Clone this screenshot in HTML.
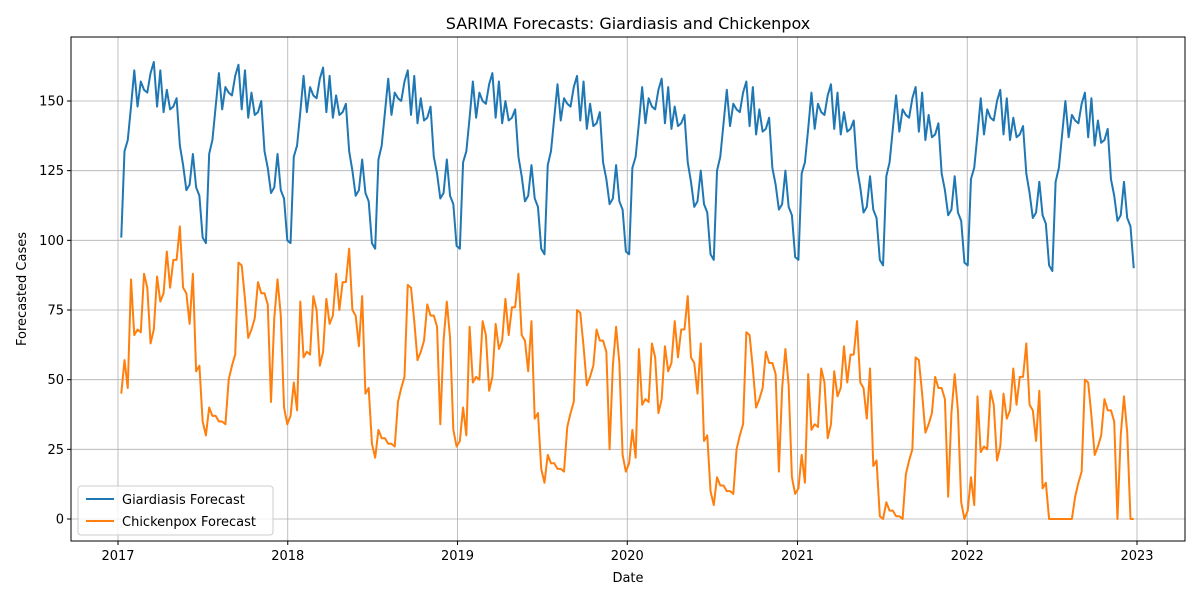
<!DOCTYPE html>
<html><head><meta charset="utf-8"><style>
body{margin:0;background:#fff}
svg{display:block;font-family:"DejaVu Sans","Liberation Sans",sans-serif}
</style></head><body>
<svg id="chart" width="1200" height="600" xmlns="http://www.w3.org/2000/svg">
<rect x="0" y="0" width="1200" height="600" fill="#fff"/>
<text x="628" y="29" text-anchor="middle" font-size="16" fill="#000">SARIMA Forecasts: Giardiasis and Chickenpox</text>
<g id="grid"></g>
<g id="axes"></g>
<g id="series"></g>
<rect x="71" y="37" width="1114" height="504" fill="none" stroke="#000" stroke-width="1"/>
<text x="628" y="582" text-anchor="middle" font-size="13">Date</text>
<text x="26" y="289" text-anchor="middle" font-size="13" transform="rotate(-90 26 289)">Forecasted Cases</text>
<g>
<rect x="78" y="486" width="195" height="49" rx="3" fill="#fff" fill-opacity="0.8" stroke="#ccc"/>
<line x1="86" y1="499" x2="114" y2="499" stroke="#1f77b4" stroke-width="2"/>
<text x="122" y="504" font-size="13">Giardiasis Forecast</text>
<line x1="86" y1="521" x2="114" y2="521" stroke="#ff7f0e" stroke-width="2"/>
<text x="122" y="526" font-size="13">Chickenpox Forecast</text>
</g>
</svg>
<script>
const startDate = "2017-01-08";
const xTickLabels = ["2017","2018","2019","2020","2021","2022","2023"];
const yTickValues = [0,25,50,75,100,125,150];
const giardiasis = [
101,132,136,148,161,148,157,154,153,160,164,148,161,146,154,147,148,151,134,127,118,120,131,119,116,101,99,131,136,148,160,147,155,153,152,159,163,147,161,144,153,145,146,150,132,126,117,119,131,118,115,100,
99,130,134,146,159,146,155,152,151,158,162,146,159,144,152,145,146,149,132,125,116,118,129,117,114,99,97,129,134,146,158,145,153,151,150,157,161,145,159,142,151,143,144,148,130,124,115,117,129,116,113,98,
97,128,132,144,157,144,153,150,149,156,160,144,157,142,150,143,144,147,130,123,114,116,127,115,112,97,95,127,132,144,156,143,151,149,148,155,159,143,157,140,149,141,142,146,128,122,113,115,127,114,111,96,
95,126,130,142,155,142,151,148,147,154,158,142,155,140,148,141,142,145,128,121,112,114,125,113,110,95,93,125,130,142,154,141,149,147,146,153,157,141,155,138,147,139,140,144,126,120,111,113,125,112,109,94,
93,124,128,140,153,140,149,146,145,152,156,140,153,138,146,139,140,143,126,119,110,112,123,111,108,93,91,123,128,140,152,139,147,145,144,151,155,139,153,136,145,137,138,142,124,118,109,111,123,110,107,92,
91,122,126,138,151,138,147,144,143,150,154,138,151,136,144,137,138,141,124,117,108,110,121,109,106,91,89,121,126,138,150,137,145,143,142,149,153,137,151,134,143,135,136,140,122,116,107,109,121,108,105,90];
const chickenpox = [
45,57,47,86,66,68,67,88,83,63,68,87,78,81,96,83,93,93,105,83,81,70,88,53,55,35,30,40,37,37,35,35,34,50,55,59,92,91,79,65,68,72,85,81,81,77,42,72,86,73,40,34,
37,49,39,78,58,60,59,80,75,55,60,79,70,73,88,75,85,85,97,75,73,62,80,45,47,27,22,32,29,29,27,27,26,42,47,51,84,83,71,57,60,64,77,73,73,69,34,64,78,65,32,26,
28,40,30,69,49,51,50,71,66,46,51,70,61,64,79,66,76,76,88,66,64,53,71,36,38,18,13,23,20,20,18,18,17,33,38,42,75,74,62,48,51,55,68,64,64,60,25,55,69,56,23,17,
20,32,22,61,41,43,42,63,58,38,43,62,53,56,71,58,68,68,80,58,56,45,63,28,30,10,5,15,12,12,10,10,9,25,30,34,67,66,54,40,43,47,60,56,56,52,17,47,61,48,15,9,
11,23,13,52,32,34,33,54,49,29,34,53,44,47,62,49,59,59,71,49,47,36,54,19,21,1,0,6,3,3,1,1,0,16,21,25,58,57,45,31,34,38,51,47,47,43,8,38,52,39,6,0,
3,15,5,44,24,26,25,46,41,21,26,45,36,39,54,41,51,51,63,41,39,28,46,11,13,0,0,0,0,0,0,0,0,8,13,17,50,49,37,23,26,30,43,39,39,35,0,30,44,31,0,0];

const NS="http://www.w3.org/2000/svg";
const t0=Date.UTC(2017,0,1), t1=Date.UTC(2023,0,1);
function xScale(ms){return 118+(ms-t0)/(t1-t0)*(1137-118);}
function yScale(v){return 519-v*(519-101)/150;}
function mk(tag,attrs,parent){const e=document.createElementNS(NS,tag);for(const k in attrs)e.setAttribute(k,attrs[k]);parent.appendChild(e);return e;}
const grid=document.getElementById('grid'), axes=document.getElementById('axes'), series=document.getElementById('series');
xTickLabels.forEach(lbl=>{
  const x=xScale(Date.UTC(+lbl,0,1));
  const g=mk('line',{x1:x,y1:37,x2:x,y2:541,stroke:'#b0b0b0','stroke-width':0.8},grid);
  
  
  const t=mk('line',{x1:x,y1:541,x2:x,y2:545,stroke:'#000'},axes);
  
  
  const tx=mk('text',{x:x,y:560,'text-anchor':'middle','font-size':13},axes);
  tx.textContent=lbl;
  
  
});
yTickValues.forEach(v=>{
  const y=yScale(v);
  const g=mk('line',{x1:71,y1:y,x2:1185,y2:y,stroke:'#b0b0b0','stroke-width':0.8},grid);
  
  
  const t=mk('line',{x1:67,y1:y,x2:71,y2:y,stroke:'#000'},axes);
  
  
  const tx=mk('text',{x:64,y:y+4.5,'text-anchor':'end','font-size':13},axes);
  tx.textContent=v;
  
  
});
const s0=Date.parse(startDate+"T00:00:00Z");
function pathFor(arr){return arr.map((v,i)=>(i?'L':'M')+xScale(s0+i*7*86400000).toFixed(2)+','+yScale(v).toFixed(2)).join('');}
const p1=mk('path',{d:pathFor(giardiasis),fill:'none',stroke:'#1f77b4','stroke-width':2,'stroke-linejoin':'round'},series);


const p2=mk('path',{d:pathFor(chickenpox),fill:'none',stroke:'#ff7f0e','stroke-width':2,'stroke-linejoin':'round'},series);


</script>
</body></html>
